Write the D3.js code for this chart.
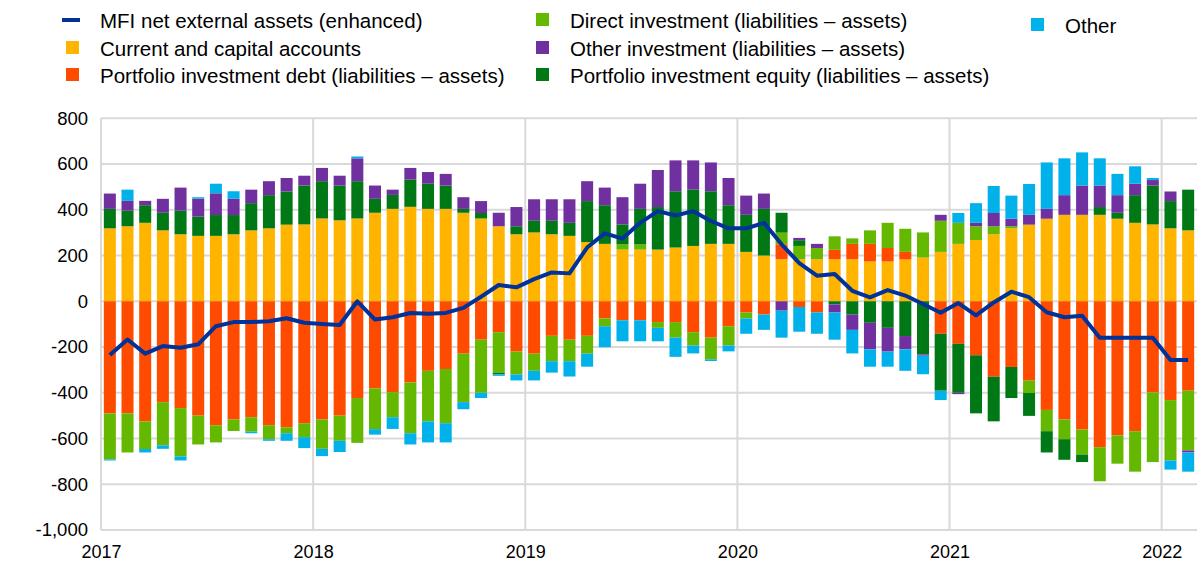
<!DOCTYPE html>
<html>
<head>
<meta charset="utf-8">
<script src="https://cdn.jsdelivr.net/npm/d3@7"></script>
<style>
  body { margin: 0; background: #fff; }
  text { font-family: "Liberation Sans", Arial, sans-serif; fill: #000; }
</style>
</head>
<body>
<div class="chart"></div>
<script>
// chart data (EUR billions, 12-month flows), Jan 2017 - Feb 2022
var yearLabels = ["2017", "2018", "2019", "2020", "2021", "2022"];
var yTicks = [800, 600, 400, 200, 0, -200, -400, -600, -800, -1000];

var currentCapital = [319, 328, 343, 310, 293, 286, 286, 293, 310, 319, 335, 336,
  362, 354, 362, 387, 404, 413, 404, 404, 387, 362, 328, 293,
  301, 293, 286, 259, 251, 226, 226, 226, 235, 242, 251, 251,
  216, 200, 184, 184, 184, 184, 184, 174, 174, 183, 191, 216,
  251, 268, 293, 319, 335, 361, 378, 378, 378, 361, 343, 336,
  319, 310];
var portfolioDebt = [-490, -490, -525, -441, -467, -500, -542, -517, -507, -542, -551, -533,
  -517, -500, -423, -381, -397, -355, -304, -296, -229, -168, -135, -220,
  -229, -151, -168, -151, -75, -83, -83, -91, -91, -135, -159, -109,
  -49, -58, 65, -25, -49, 41, 67, 77, 59, 33, 0, -142,
  -186, -236, -330, -287, -347, -475, -517, -561, -638, -586, -568, -399,
  -432, -391];
var directInv = [-201, -171, -121, -189, -211, -126, -75, -50, -63, -61, -26, -61,
  -128, -110, -196, -178, -110, -222, -221, -237, -212, -232, -177, -100,
  -75, -111, -94, -78, -34, 23, 23, -25, -68, -58, -95, -84,
  -26, 0, 51, 58, 49, 59, 24, 59, 110, 101, 110, 136,
  92, 60, 35, 9, -54, -93, -86, -109, -149, -124, -177, -304,
  -264, -261];
var portfolioEquity = [85, 68, 77, 77, 103, 84, 91, 84, 119, 145, 145, 170,
  163, 152, 163, 61, 61, 119, 110, 102, 17, 24, -8, 35,
  51, 59, 57, 179, 169, 87, 155, 186, 246, 246, 230, 169,
  162, 204, 87, 25, 0, -14, -58, -94, -116, -152, -232, -249,
  -214, -254, -195, -136, -100, -93, -90, -33, 34, 26, 121, 170,
  119, 178];
var otherInv = [67, 43, 19, 61, 101, 79, 95, 71, 59, 61, 59, 43,
  58, 43, 100, 58, 23, 51, 51, 51, 51, 52, 59, 84,
  94, 94, 103, 87, 77, 119, 110, 162, 135, 128, 126, 119,
  84, 67, -41, 10, 18, -35, -67, -116, -104, -58, -6, 26,
  -6, 15, 58, 33, 43, 43, 86, 128, 94, 77, 50, 24,
  42, -9];
var other = [-5, 49, -15, -15, -18, 6, 42, 33, -7, -7, -33, -48,
  -32, -49, 8, -24, -51, -49, -92, -84, -31, -23, -6, -26,
  -42, -50, -67, -57, -92, -92, -92, -59, -84, -35, -7, -26,
  -67, -67, -118, -108, -93, -119, -103, -76, -66, -94, -81, -41,
  43, 86, 118, 101, 135, 203, 161, 145, 119, 93, 76, 9,
  -40, -84];
var mfi = [-235, -167, -229, -196, -203, -188, -109, -91, -91, -87, -74, -94,
  -99, -104, 0, -80, -70, -51, -54, -51, -29, 20, 71, 61,
  97, 126, 122, 235, 297, 274, 343, 394, 375, 394, 351, 319,
  319, 343, 249, 167, 112, 119, 46, 17, 49, 25, -12, -50,
  -8, -62, -5, 42, 18, -48, -70, -63, -159, -159, -159, -159,
  -257, -257];

var months = d3.timeMonth.range(new Date(2017, 0, 1), new Date(2022, 2, 1));

var keys = ["current", "debt", "direct", "equity", "otherInv", "other"];
var colors = {
  current: "#ffb400",
  debt: "#ff4b00",
  direct: "#65b800",
  equity: "#007816",
  otherInv: "#7030a0",
  other: "#00b1ea"
};

var dataset = months.map((m, i) => ({
  month: m,
  current: currentCapital[i],
  debt: portfolioDebt[i],
  direct: directInv[i],
  equity: portfolioEquity[i],
  otherInv: otherInv[i],
  other: other[i]
}));

var width = 1201;
var height = 569;
var plotLeft = 101, plotRight = 1197, plotTop = 118.3, plotBottom = 530;

var svg = d3.select(".chart")
            .append("svg")
            .attr("width", width)
            .attr("height", height);

var xBand = d3.scaleBand()
              .domain(d3.range(months.length))
              .range([plotLeft, plotRight])
              .paddingInner(0.32)
              .paddingOuter(0.16);

var xYear = d3.scaleLinear()
              .domain([0, months.length])
              .range([plotLeft, plotRight]);

var yScale = d3.scaleLinear()
               .domain([-1000, 800])
               .range([plotBottom, plotTop]);

// grid
svg.append("g")
   .selectAll("line")
   .data(yTicks)
   .enter()
   .append("line")
   .attr("x1", plotLeft)
   .attr("x2", plotRight)
   .attr("y1", d => yScale(d))
   .attr("y2", d => yScale(d))
   .attr("stroke", "#d9d9d9")
   .attr("stroke-width", 2);

svg.append("g")
   .selectAll("line")
   .data(yearLabels)
   .enter()
   .append("line")
   .attr("x1", (d, i) => xYear(i * 12))
   .attr("x2", (d, i) => xYear(i * 12))
   .attr("y1", plotTop)
   .attr("y2", plotBottom)
   .attr("stroke", "#d9d9d9")
   .attr("stroke-width", 2);

// stacked bars
var series = d3.stack()
               .keys(keys)
               .offset(d3.stackOffsetDiverging)(dataset);

svg.append("g")
   .selectAll("g")
   .data(series)
   .enter()
   .append("g")
   .attr("fill", d => colors[d.key])
   .selectAll("rect")
   .data(d => d)
   .enter()
   .append("rect")
   .attr("x", (d, i) => xBand(i))
   .attr("width", xBand.bandwidth())
   .attr("y", d => yScale(d[1]))
   .attr("height", d => Math.max(0, yScale(d[0]) - yScale(d[1])));

// MFI line
var line = d3.line()
             .x((d, i) => xBand(i) + xBand.bandwidth() / 2)
             .y(d => yScale(d));

svg.append("path")
   .datum(mfi)
   .attr("fill", "none")
   .attr("stroke", "#003299")
   .attr("stroke-width", 4)
   .attr("stroke-linejoin", "round")
   .attr("d", line);

// axes
var fmt = d => d3.format(",")(d).replace("\u2212", "-");
var yAxis = d3.axisLeft(yScale)
              .tickValues(yTicks)
              .tickSize(0)
              .tickPadding(13)
              .tickFormat(fmt);
var gy = svg.append("g")
   .attr("transform", "translate(" + plotLeft + ",0)")
   .call(yAxis);
gy.select(".domain").remove();
gy.selectAll("text").style("font-size", "18.5px");

var xAxis = d3.axisBottom(xYear)
              .tickValues(d3.range(0, months.length, 12))
              .tickSize(0)
              .tickPadding(15)
              .tickFormat((d, i) => yearLabels[i]);
var gx = svg.append("g")
   .attr("transform", "translate(0," + plotBottom + ")")
   .call(xAxis);
gx.select(".domain").remove();
gx.selectAll("text").style("font-size", "18px");

// legend
var legendItems = [
  { label: "MFI net external assets (enhanced)", type: "line", color: "#003299", x: 62, y: 20 },
  { label: "Current and capital accounts", type: "rect", color: colors.current, x: 62, y: 48 },
  { label: "Portfolio investment debt (liabilities \u2013 assets)", type: "rect", color: colors.debt, x: 62, y: 75 },
  { label: "Direct investment (liabilities \u2013 assets)", type: "rect", color: colors.direct, x: 532, y: 20 },
  { label: "Other investment (liabilities \u2013 assets)", type: "rect", color: colors.otherInv, x: 532, y: 48 },
  { label: "Portfolio investment equity (liabilities \u2013 assets)", type: "rect", color: colors.equity, x: 532, y: 75 },
  { label: "Other", type: "rect", color: colors.other, x: 1027, y: 25 }
];

var legend = svg.append("g");
legendItems.forEach(d => {
  if (d.type === "line") {
    legend.append("line")
          .attr("x1", d.x)
          .attr("x2", d.x + 18)
          .attr("y1", d.y)
          .attr("y2", d.y)
          .attr("stroke", d.color)
          .attr("stroke-width", 4);
  } else {
    legend.append("rect")
          .attr("x", d.x + 4)
          .attr("y", d.y - 7)
          .attr("width", 13)
          .attr("height", 13)
          .attr("fill", d.color);
  }
  legend.append("text")
        .attr("x", d.x + 38)
        .attr("y", d.y)
        .attr("dominant-baseline", "central")
        .style("font-size", "20.5px")
        .text(d.label);
});
</script>
</body>
</html>
